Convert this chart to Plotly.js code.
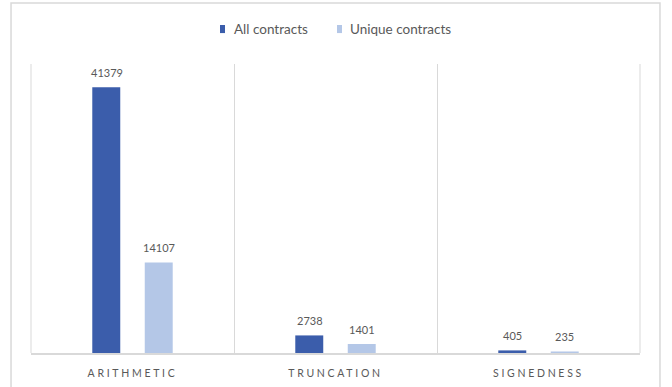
<!DOCTYPE html>
<html>
<head>
<meta charset="utf-8">
<script src="https://cdn.plot.ly/plotly-3.0.1.min.js"></script>
<style>
html,body{margin:0;padding:0;background:#fff;}
#chart{width:672px;height:387px;}
.xtick text{letter-spacing:2.7px;}
</style>
</head>
<body>
<div id="chart"></div>
<script>
const categories = ["ARITHMETIC", "TRUNCATION", "SIGNEDNESS"];
const allContracts = [41379, 2738, 405];
const uniqueContracts = [14107, 1401, 235];
const seriesNames = ["All contracts", "Unique contracts"];

const darkBlue = "#3B5DAB";
const lightBlue = "#B4C7E7";
const textGray = "#595959";
const lineGray = "#D9D9D9";
const seriesColors = [darkBlue, lightBlue];
const fontFam = "Lato, 'Open Sans', sans-serif";

const traces = [
  {type: "bar", name: seriesNames[0], x: categories, y: allContracts,
   marker: {color: darkBlue}, hoverinfo: "none", showlegend: false},
  {type: "bar", name: seriesNames[1], x: categories, y: uniqueContracts,
   marker: {color: lightBlue}, hoverinfo: "none", showlegend: false}
];

const annotations = [];
[allContracts, uniqueContracts].forEach((vals, si) => {
  vals.forEach((v, i) => {
    annotations.push({
      x: categories[i], y: v, xref: "x", yref: "y",
      text: String(v), showarrow: false,
      xshift: si === 0 ? -26 : 26, yshift: 15,
      font: {family: fontFam, size: 11, color: textGray}
    });
  });
});

// custom legend (symbol shapes + text annotations)
const legendTextX = [0.330, 0.5205];
const legendSymX = [[0.3103, 0.3186], [0.5025, 0.5107]];
const shapes = [
  {type: "rect", xref: "paper", yref: "paper",
   x0: -0.0328, x1: 1.0328, y0: -0.2, y1: 1.211,
   line: {color: lineGray, width: 1.5}, fillcolor: "rgba(0,0,0,0)", layer: "below"},
  {type: "line", xref: "paper", yref: "paper", x0: 0, x1: 0, y0: 0, y1: 1,
   line: {color: lineGray, width: 1}, layer: "below"},
  {type: "line", xref: "paper", yref: "paper", x0: 1, x1: 1, y0: 0, y1: 1,
   line: {color: lineGray, width: 1}, layer: "below"}
];
seriesNames.forEach((name, si) => {
  annotations.push({
    xref: "paper", yref: "paper", x: legendTextX[si], y: 1.121,
    xanchor: "left", yanchor: "middle", showarrow: false,
    text: name, font: {family: fontFam, size: 13.5, color: textGray}
  });
  shapes.push({
    type: "rect", xref: "paper", yref: "paper",
    x0: legendSymX[si][0], x1: legendSymX[si][1], y0: 1.107, y1: 1.135,
    line: {width: 0}, fillcolor: seriesColors[si]
  });
});

const layout = {
  width: 672, height: 387,
  margin: {l: 31, r: 32, t: 64, b: 34},
  paper_bgcolor: "#ffffff", plot_bgcolor: "#ffffff",
  font: {family: fontFam, color: textGray},
  barmode: "group",
  bargap: 0.483,
  bargroupgap: 0.467,
  showlegend: false,
  xaxis: {
    type: "category",
    tickson: "boundaries",
    showgrid: true, gridcolor: lineGray, gridwidth: 1,
    showline: true, linecolor: lineGray, linewidth: 1.5,
    ticks: "", ticklen: 0,
    tickfont: {size: 10.5, color: textGray},
    ticklabelstandoff: 10,
    fixedrange: true
  },
  yaxis: {
    range: [0, 45000],
    showgrid: false, zeroline: false, showline: false,
    showticklabels: false, ticks: "",
    fixedrange: true
  },
  shapes: shapes,
  annotations: annotations
};

Plotly.newPlot("chart", traces, layout, {displayModeBar: false, staticPlot: true});
</script>
</body>
</html>
